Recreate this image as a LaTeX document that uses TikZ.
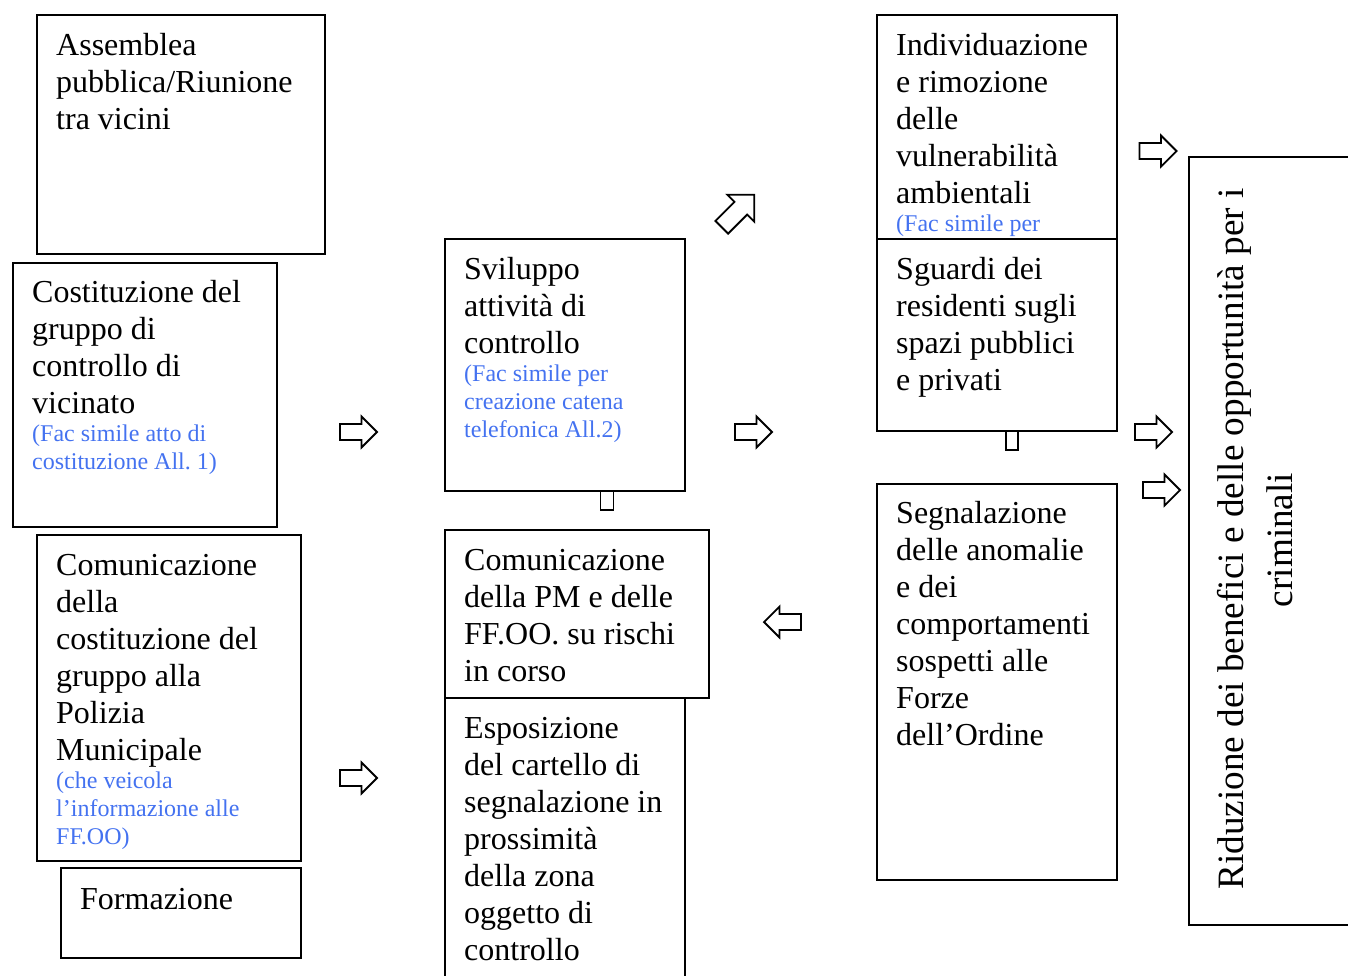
\documentclass[tikz,border=0pt]{standalone}
\usepackage{fontspec}
\setmainfont{Liberation Serif}
\definecolor{blu}{RGB}{68,114,240}
\setlength{\parindent}{0pt}
\setlength{\parskip}{0pt}
\newcommand{\bigtxt}{\fontsize{32pt}{37pt}\selectfont}
\newcommand{\smalltxt}{\fontsize{24pt}{28pt}\selectfont\color{blu}}
\newcommand{\fs}{\rule{0pt}{30pt}}
\tikzset{
  box/.style={draw, line width=1.8pt, anchor=north west, inner sep=0pt},
  txt/.style={anchor=north west, inner sep=0pt, text width=300pt, align=flush left, font=\bigtxt},
  rot/.style={rotate=90, anchor=base, inner sep=0pt, font=\fontsize{37.2pt}{45pt}\selectfont},
  arrowline/.style={draw, line width=1.8pt, line join=miter},
  pics/barrow/.style n args={3}{code={
    \draw[arrowline] (-#1/2,-#3) -- (#1/2-#2,-#3) -- (#1/2-#2,-#2) -- (#1/2,0)
      -- (#1/2-#2,#2) -- (#1/2-#2,#3) -- (-#1/2,#3) -- cycle;}}
}
\begin{document}
\begin{tikzpicture}[x=1pt,y=-1pt]
\useasboundingbox (0,0) rectangle (1348,975);
\clip (0,0) rectangle (1348,975);
% boxes
\node[box, minimum width=288pt, minimum height=239pt] (b1) at (36,14) {};
\node[box, minimum width=264pt, minimum height=264pt] (b2) at (12,262) {};
\node[box, minimum width=264pt, minimum height=326pt] (b3) at (36,534) {};
\node[box, minimum width=240pt, minimum height=90pt] (b4) at (60,867) {};
\node[box, minimum width=240pt, minimum height=252pt] (b5) at (444,238) {};
\node[box, minimum width=264pt, minimum height=168pt] (b6) at (444,529) {};
\node[box, minimum width=240pt, minimum height=310pt] (b7) at (444,697) {};
\node[box, minimum width=240pt, minimum height=224pt] (b8) at (876,14) {};
\node[box, minimum width=240pt, minimum height=192pt] (b9) at (876,238) {};
\node[box, minimum width=240pt, minimum height=396pt] (b10) at (876,483) {};
\node[box, minimum width=220pt, minimum height=768pt] (b11) at (1188,156) {};
% small stubs
\node[box, minimum width=13pt, minimum height=19pt, anchor=north] (c1) at (607,490) {};
\node[box, minimum width=12pt, minimum height=19pt, anchor=north] (c2) at (1012,430) {};
% texts
\node[txt] (t1) at (56,25) {\fs Assemblea\\pubblica/Riunione\\tra vicini};
\node[txt] (t2) at (32,272) {\fs Costituzione del\\gruppo di\\controllo di\\vicinato\par
  {\smalltxt (Fac simile atto di\\costituzione All.\ 1)\par}};
\node[txt] (t3) at (56,545) {\fs Comunicazione\\della\\costituzione del\\gruppo alla\\Polizia\\Municipale\par
  {\smalltxt (che veicola\\l’informazione alle\\FF.OO)\par}};
\node[txt] (t4) at (80,879) {\fs Formazione};
\node[txt] (t5) at (464,249) {\fs Sviluppo\\attività di\\controllo\par
  {\smalltxt (Fac simile per\\creazione catena\\telefonica All.2)\par}};
\node[txt] (t6) at (464,540) {\fs Comunicazione\\della PM e delle\\FF.OO.\ su rischi\\in corso};
\node[txt] (t7) at (464,708) {\fs Esposizione\\del cartello di\\segnalazione in\\prossimità\\della zona\\oggetto di\\controllo};
\begin{scope}
\clip (876,14) rectangle (1116,237);
\node[txt] (t8) at (896,25) {\fs Individuazione\\e rimozione\\delle\\vulnerabilità\\ambientali\par
  {\smalltxt (Fac simile per\par}};
\end{scope}
\node[txt] (t9) at (896,249) {\fs Sguardi dei\\residenti sugli\\spazi pubblici\\e privati};
\node[txt] (t10) at (896,493) {\fs Segnalazione\\delle anomalie\\e dei\\comportamenti\\sospetti alle\\Forze\\dell’Ordine};
\node[rot] (t11a) at (1243,539) {Riduzione dei benefici e delle opportunità per i};
\node[rot] (t11b) at (1292,540) {criminali};
% block arrows
\pic at (358.5,432) {barrow={37}{15.5}{8}};
\pic at (358.5,778) {barrow={37}{15.5}{8}};
\pic at (753.5,432) {barrow={37}{15.5}{8}};
\pic at (1158,151) {barrow={37}{15.5}{8}};
\pic at (1153.5,432) {barrow={37}{15.5}{8}};
\pic at (1161.5,490) {barrow={37}{15.5}{8}};
\pic[rotate=180] at (782.5,622) {barrow={37}{15.5}{8}};
\pic[rotate=45] at (738,211) {barrow={46}{19}{9}};
\end{tikzpicture}
\end{document}
